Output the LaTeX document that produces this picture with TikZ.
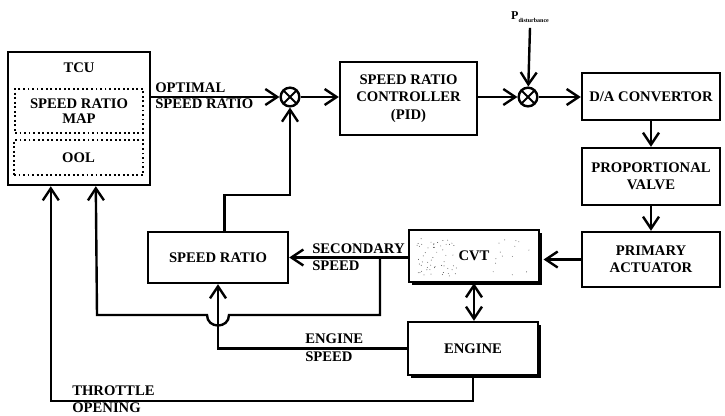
\documentclass[tikz,border=0pt]{standalone}
\usepackage{fontspec}
\setmainfont{Liberation Serif}
\usetikzlibrary{arrows.meta,shadows,calc}
\begin{document}
\begin{tikzpicture}[x=0.75pt,y=-0.75pt,
  every node/.style={font=\bfseries\fontsize{11}{13}\selectfont, inner sep=0pt},
  blk/.style={draw, line width=1.8pt, align=center},
  dotbox/.style={draw, dotted, line width=1.4pt, align=center},
  sumj/.style={draw, circle, line width=1.8pt, minimum size=14pt,
    path picture={\draw[line width=1.5pt] (path picture bounding box.north west) -- (path picture bounding box.south east)
      (path picture bounding box.north east) -- (path picture bounding box.south west);}},
  lbl/.style={anchor=west, align=left},
  tip/.tip={Straight Barb[length=9pt,width=12pt,line width=1.8pt]},
  arr/.style={line width=1.8pt, -tip},
  ln/.style={line width=1.8pt},
  shad/.style={drop shadow={shadow xshift=2.5pt, shadow yshift=-2.5pt, fill=black, opacity=1}}
]
\useasboundingbox (0,0) rectangle (725,415);

% TCU
\node[blk, minimum width=106.5pt, minimum height=99.75pt] (TCU) at (79,118.5) {};
\node (tculbl) at (79,68) {TCU};
\node[dotbox, minimum width=96pt, minimum height=33pt] (MAP) at (79,111) {SPEED RATIO\\[-1.5pt]MAP};
\node[dotbox, minimum width=96.75pt, minimum height=26.25pt] (OOL) at (78.5,157.5) {OOL};

% top chain
\node[sumj] (J1) at (290,97) {};
\node[blk, minimum width=102.75pt, minimum height=54.75pt] (CTRL) at (408.5,98.5) {SPEED RATIO\\CONTROLLER\\(PID)};
\node[sumj] (J2) at (528,97) {};
\node (PD) at (530,17) {\fontsize{9}{10}\selectfont P\raisebox{-2pt}{\fontsize{4.5}{5}\selectfont disturbance}};
\node[blk, minimum width=103.5pt, minimum height=35.25pt] (DA) at (651,96.5) {D/A CONVERTOR};
\node[blk, minimum width=103.5pt, minimum height=42.75pt] (PV) at (651,176.5) {PROPORTIONAL\\VALVE};
\node[blk, minimum width=103.5pt, minimum height=41.25pt] (PA) at (651,259.5) {PRIMARY\\ACTUATOR};

% plant
\node[blk, shad, fill=white, minimum width=97.5pt, minimum height=39pt] (CVT) at (474,256) {};
\pgfmathsetseed{7}
\foreach \i in {1,...,55}{
  \pgfmathsetmacro\xx{417+40*rnd}
  \pgfmathsetmacro\yy{238+38*rnd}
  \fill[black!70] (\xx,\yy) circle (0.35pt);
}
\foreach \i in {1,...,14}{
  \pgfmathsetmacro\xx{490+44*rnd}
  \pgfmathsetmacro\yy{238+38*rnd}
  \fill[black!70] (\xx,\yy) circle (0.35pt);
}
\node (cvtlbl) at (CVT) {CVT};
\node[blk, shad, fill=white, minimum width=97.5pt, minimum height=39.75pt] (ENG) at (473,348.5) {ENGINE};
\node[blk, minimum width=105pt, minimum height=38.25pt] (SR) at (218,257.5) {SPEED RATIO};

% labels
\node[lbl] (l1) at (155,88) {OPTIMAL};
\node[lbl] (l2) at (155,104) {SPEED RATIO};
\node[lbl] (l3) at (312,249) {SECONDARY};
\node[lbl] (l4) at (312,266) {SPEED};
\node[lbl] (l5) at (305,339) {ENGINE};
\node[lbl] (l6) at (305,357) {SPEED};
\node[lbl] (l7) at (72,391) {THROTTLE};
\node[lbl] (l8) at (72,408) {OPENING};

% connectors
\draw[arr] (TCU.east |- J1) -- (J1);
\draw[arr] (J1) -- (CTRL.west |- J1);
\draw[arr] (CTRL.east |- J2) -- (J2);
\draw[arr] (J2) -- (DA.west |- J2);
\draw[arr] ([yshift=-4pt]PD.south) -- (J2);
\draw[arr] (DA) -- (PV);
\draw[arr] (PV) -- (PA);
\draw[arr] (PA.west) -- ([xshift=2.5pt]PA.west -| CVT.east);
\draw[arr] (CVT.west |- SR.east) -- (SR.east);
\coordinate (b1) at (380,257.5);
\coordinate (c1) at (380,315);
\coordinate (h1) at (229,315);
\coordinate (h2) at (207,315);
\coordinate (c2) at (97,315);
\draw[arr] (b1) -- (c1) -- (h1) .. controls (229,329) and (207,329) .. (h2) -- (c2) -- ([xshift=66.75pt]TCU.south west);
\draw[arr] (ENG.west) -| (SR.south);
\draw[arr] ([xshift=5pt]SR.north) -- ++(0,-36) -| (J1.south);
\draw[arr] (ENG.south) -- ++(0,25) -| ([xshift=33pt]TCU.south west);
\draw[ln, tip-tip] (CVT.south) -- (CVT.south |- ENG.north);
\end{tikzpicture}
\end{document}
